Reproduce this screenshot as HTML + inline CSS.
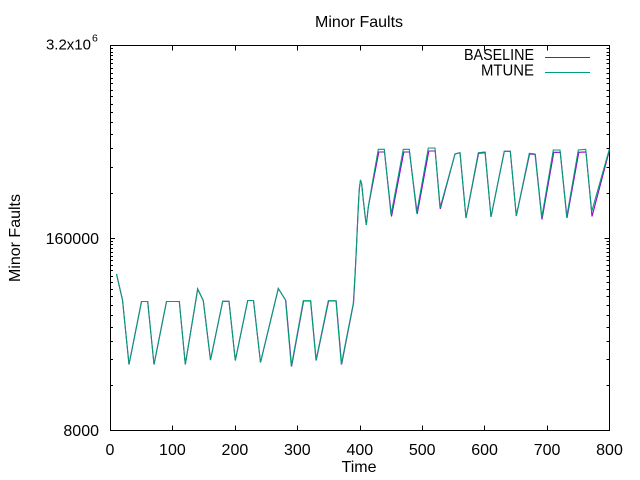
<!DOCTYPE html>
<html><head><meta charset="utf-8"><style>
html,body{margin:0;padding:0;background:#fff;}
svg{display:block;}
text{font-family:"Liberation Sans",sans-serif;fill:#000;}
</style></head><body>
<svg width="640" height="480" viewBox="0 0 640 480" xmlns="http://www.w3.org/2000/svg">
<rect width="640" height="480" fill="#fff"/>
<g stroke="#000" stroke-width="1" fill="none" shape-rendering="crispEdges">
<rect x="110.5" y="45.5" width="499" height="385"/>
<path d="M172.5 430.5v-5M235.5 430.5v-5M297.5 430.5v-5M360.5 430.5v-5M422.5 430.5v-5M484.5 430.5v-5M547.5 430.5v-5
M172.5 45.5v5M235.5 45.5v5M297.5 45.5v5M360.5 45.5v5M422.5 45.5v5M484.5 45.5v5M547.5 45.5v5
M110 238.5h5M609.5 238.5h-5
M110 385.5h3M110 359.5h3M110 341.5h3M110 327.5h3M110 315.5h3M110 305.5h3M110 296.5h3M110 289.5h3M110 282.5h3M110 276.5h3M110 270.5h3M110 265.5h3M110 260.5h3M110 256.5h3M110 252.5h3M110 248.5h3M110 244.5h3M110 241.5h3
M110 193.5h3M110 167.5h3M110 148.5h3M110 134.5h3M110 122.5h3M110 112.5h3M110 104.5h3M110 96.5h3M110 90.5h3M110 83.5h3M110 78.5h3M110 73.5h3M110 68.5h3M110 63.5h3M110 59.5h3M110 55.5h3M110 52.5h3M110 48.5h3
M609.5 385.5h-3M609.5 359.5h-3M609.5 341.5h-3M609.5 327.5h-3M609.5 315.5h-3M609.5 305.5h-3M609.5 296.5h-3M609.5 289.5h-3M609.5 282.5h-3M609.5 276.5h-3M609.5 270.5h-3M609.5 265.5h-3M609.5 260.5h-3M609.5 256.5h-3M609.5 252.5h-3M609.5 248.5h-3M609.5 244.5h-3M609.5 241.5h-3
M609.5 193.5h-3M609.5 167.5h-3M609.5 148.5h-3M609.5 134.5h-3M609.5 122.5h-3M609.5 112.5h-3M609.5 104.5h-3M609.5 96.5h-3M609.5 90.5h-3M609.5 83.5h-3M609.5 78.5h-3M609.5 73.5h-3M609.5 68.5h-3M609.5 63.5h-3M609.5 59.5h-3M609.5 55.5h-3M609.5 52.5h-3M609.5 48.5h-3"/>
</g>
<!-- BASELINE -->
<polyline fill="none" stroke="#9400d3" stroke-width="1.1" points="116.5,274 122.5,300 129,364.5 141.5,301.5 147.7,301.5 154,364.5 166.5,301.5 179.3,301.5 185.3,364.5 197.7,289 203.3,300.7 210.5,360 222.7,301.3 229,301.3 235.3,360.5 247.7,300.5 253.5,300.5 260.5,362.5 278.3,288.5 285.8,300.5 291.6,366.5 303.6,301 310.7,301 316.2,360.5 328.6,301 336.2,301 341.6,364.5 353.5,303.3 355.1,275 356.3,250 358.3,207 359.3,189 360.5,180 361.7,184 363.3,200 365,215 366.3,225 368.3,207 372.5,185 378.8,152 384.5,152 391.5,216.5 403.8,152 409.5,152 417.2,214 428.8,151 435.2,151 440.3,209 455,154 460,152.7 466,218 478.6,153.3 485.2,152.7 491,217 504.3,151.3 510.3,151.3 516.3,216 529.6,154 535.3,154.5 542,219.5 553.8,152.3 560.3,152.3 567,218 578.8,152.3 586,152 592,216.5 609.5,150"/>
<!-- MTUNE -->
<polyline fill="none" stroke="#009e73" stroke-width="1.1" points="116.5,274 122.5,300 129,364.5 141.5,301.5 147.7,301.5 154,364.5 166.5,301.5 179.3,301.5 185.3,364.5 197.7,289 203.3,300.7 210.5,360 222.7,301.3 229,301.3 235.3,360.5 247.7,300.5 253.5,300.5 260.5,362.5 278.3,288.5 285.5,300 291.3,366.5 303.3,300.7 310.5,300.7 316,360.5 328.3,300.7 336,300.7 341.3,364.5 353.3,303.3 355,275 356.3,250 358.3,207 359.3,189 360.5,180 361.7,184 363.3,200 365,215 366.3,225 368.3,207 372,185 378.3,149.3 384.3,149.3 391,215 403.3,149.3 409.3,149.3 416.7,213 428.3,148 435,148 440,208 455,154 460,152.7 466,218 478.3,152.7 485,152 491,217 504.3,151.3 510.3,151.3 516.3,216 529.3,153.3 535,154 541.7,218 553.3,150 560,150 566.7,217 578.3,150 585.7,149.3 591.7,211.7 609.3,149.3"/>
<!-- legend -->
<line x1="545" y1="57.5" x2="590" y2="57.5" stroke="#9400d3" stroke-width="1"/>
<line x1="545" y1="72.5" x2="590" y2="72.5" stroke="#009e73" stroke-width="1"/>
<text x="464" y="60" font-size="16" textLength="70" lengthAdjust="spacingAndGlyphs">BASELINE</text>
<text x="481" y="75.5" font-size="16" textLength="53" lengthAdjust="spacingAndGlyphs">MTUNE</text>
<!-- title -->
<text x="359" y="27" font-size="16" text-anchor="middle">Minor Faults</text>
<!-- y tick labels -->
<text x="91" y="49.5" font-size="15" text-anchor="end">3.2x10</text>
<text x="92" y="41.5" font-size="10.5">6</text>
<text x="99" y="243.8" font-size="16" text-anchor="end">160000</text>
<text x="99" y="436" font-size="16" text-anchor="end">8000</text>
<!-- x tick labels -->
<g font-size="16" text-anchor="middle">
<text x="110" y="455">0</text>
<text x="172.4" y="455">100</text>
<text x="234.9" y="455">200</text>
<text x="297.3" y="455">300</text>
<text x="359.8" y="455">400</text>
<text x="422.2" y="455">500</text>
<text x="484.6" y="455">600</text>
<text x="547.1" y="455">700</text>
<text x="609.5" y="455">800</text>
</g>
<text x="359" y="472" font-size="16" text-anchor="middle">Time</text>
<text transform="translate(20,238) rotate(-90)" font-size="16" text-anchor="middle">Minor Faults</text>
</svg>
</body></html>
